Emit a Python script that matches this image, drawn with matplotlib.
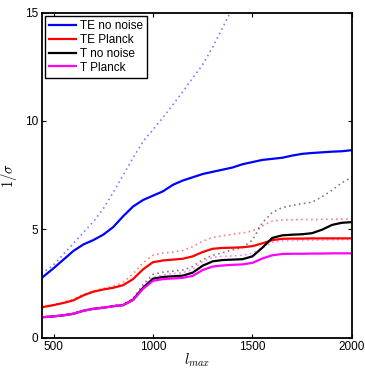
import matplotlib
matplotlib.use("Agg")
import matplotlib.pyplot as plt
import numpy as np

plt.rcParams['font.family'] = ['Liberation Sans', 'DejaVu Sans']
plt.rcParams['mathtext.fontset'] = 'cm'

lmax = [440, 500, 550, 600, 650, 700, 750, 800, 850, 900, 950, 1000, 1050, 1100,
        1150, 1200, 1250, 1300, 1350, 1400, 1450, 1500, 1550, 1600, 1650, 1700,
        1750, 1800, 1850, 1900, 1950, 2000]

te_nonoise = [2.75, 3.2, 3.6, 4.0, 4.3, 4.5, 4.75, 5.1, 5.6, 6.05, 6.35, 6.55, 6.75, 7.05,
              7.25, 7.4, 7.55, 7.65, 7.75, 7.85, 8.0, 8.1, 8.2, 8.25, 8.3, 8.4,
              8.48, 8.52, 8.55, 8.58, 8.6, 8.65]
te_planck = [1.4, 1.5, 1.6, 1.72, 1.95, 2.12, 2.22, 2.3, 2.42, 2.7, 3.15, 3.48, 3.56, 3.6,
             3.64, 3.75, 3.95, 4.1, 4.14, 4.15, 4.17, 4.22, 4.35, 4.5, 4.56, 4.57,
             4.57, 4.58, 4.58, 4.58, 4.58, 4.58]
t_nonoise = [0.94, 0.98, 1.03, 1.1, 1.24, 1.33, 1.38, 1.45, 1.5, 1.75, 2.3, 2.72, 2.8, 2.83,
             2.86, 3.0, 3.32, 3.52, 3.58, 3.6, 3.62, 3.75, 4.15, 4.6, 4.72, 4.75,
             4.77, 4.82, 4.98, 5.2, 5.3, 5.33]
t_planck = [0.94, 0.98, 1.03, 1.1, 1.24, 1.33, 1.38, 1.45, 1.5, 1.73, 2.25, 2.62, 2.7, 2.73,
            2.76, 2.85, 3.12, 3.28, 3.33, 3.36, 3.38, 3.45, 3.65, 3.8, 3.86, 3.87,
            3.87, 3.88, 3.88, 3.89, 3.89, 3.89]

te_nonoise_alt = [2.95, 3.35, 3.85, 4.35, 4.85, 5.35, 5.95, 6.7, 7.5, 8.3, 9.05, 9.6, 10.15, 10.75,
                  11.35, 11.98, 12.6, 13.4, 14.3, 15.2, 16.1, 17.0, 17.8, 18.5, 19.2, 19.9,
                  20.5, 21.0, 21.5, 22.0, 22.5, 23.0]
te_planck_alt = [1.42, 1.52, 1.63, 1.78, 2.0, 2.15, 2.27, 2.38, 2.55, 2.95, 3.45, 3.8, 3.9, 3.95,
                 4.02, 4.2, 4.45, 4.62, 4.7, 4.77, 4.83, 4.92, 5.15, 5.38, 5.43, 5.44,
                 5.45, 5.45, 5.46, 5.46, 5.47, 5.47]
t_nonoise_alt = [0.95, 0.99, 1.04, 1.12, 1.26, 1.35, 1.4, 1.47, 1.53, 1.8, 2.45, 2.92, 3.02, 3.07,
                 3.12, 3.28, 3.6, 3.8, 3.92, 4.05, 4.15, 4.5, 5.3, 5.78, 6.0, 6.1,
                 6.18, 6.25, 6.5, 6.8, 7.15, 7.4]
t_planck_alt = [0.95, 0.99, 1.04, 1.12, 1.26, 1.35, 1.4, 1.47, 1.53, 1.78, 2.35, 2.78, 2.9, 2.95,
                3.0, 3.15, 3.5, 3.7, 3.75, 3.77, 3.8, 3.9, 4.15, 4.4, 4.47, 4.48,
                4.49, 4.5, 4.5, 4.51, 4.52, 4.52]

labels = ['TE no noise', 'TE Planck', 'T no noise', 'T Planck']
colors = ['#0000ff', '#ff0000', '#000000', '#ff00ff']
solid = [te_nonoise, te_planck, t_nonoise, t_planck]
dotted = [te_nonoise_alt, te_planck_alt, t_nonoise_alt, t_planck_alt]

fig = plt.figure(figsize=(3.65, 3.69), dpi=100)
ax = fig.add_axes([0.114, 0.085, 0.850, 0.881])

for ys, c in zip(dotted, colors):
    ax.plot(lmax, ys, linestyle=(0, (1, 2)), color=c, alpha=0.5, lw=1.2)
handles = []
for ys, c, lab in zip(solid, colors, labels):
    h, = ax.plot(lmax, ys, '-', color=c, lw=1.6, label=lab)
    handles.append(h)

ax.set_xlim(440, 2000)
ax.set_ylim(0, 15)
ax.set_xticks([500, 1000, 1500, 2000])
ax.set_yticks([0, 5, 10, 15])
ax.tick_params(direction='in', top=True, right=True, labelsize=8.5, length=3, width=0.8, pad=2.5)
for s in ax.spines.values():
    s.set_linewidth(1.3)

ax.set_xlabel(r'$l_{max}$', fontsize=10.5, labelpad=-1)
ax.set_ylabel(r'$1/\sigma$', fontsize=10.5, labelpad=4)

leg = ax.legend(handles=handles, loc='upper left', fontsize=8.5, handlelength=2.3,
                handletextpad=0.3, labelspacing=0.15, borderpad=0.35,
                fancybox=False, framealpha=1, borderaxespad=0.3)
leg.get_frame().set_edgecolor('black')
leg.get_frame().set_linewidth(1.0)

fig.savefig('out.png', dpi=100)
